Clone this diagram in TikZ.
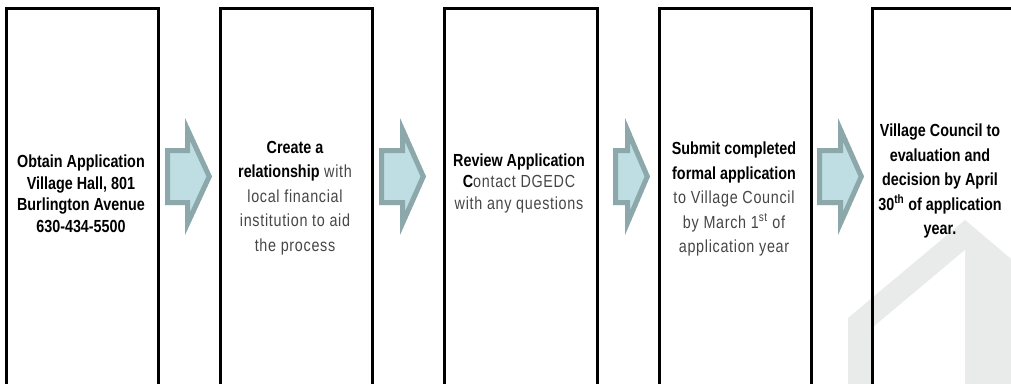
\documentclass[tikz,border=0pt]{standalone}
\usepackage{fontspec}
\setmainfont{Liberation Sans}[FakeStretch=0.82, UprightFeatures={LetterSpace=4}]
\definecolor{arrowline}{RGB}{140,168,170}
\definecolor{arrowfill}{RGB}{190,222,227}
\definecolor{housegray}{RGB}{233,234,234}
\definecolor{textgray}{RGB}{70,70,70}
\newcommand{\blkarrow}[3]{%
  \begin{scope}
    \clip (#1,148) -- (#2,148) -- (#2,118) -- (#3,176.5) -- (#2,235) -- (#2,205) -- (#1,205) -- cycle;
    \fill[arrowfill] (#1,148) -- (#2,148) -- (#2,118) -- (#3,176.5) -- (#2,235) -- (#2,205) -- (#1,205) -- cycle;
    \draw[arrowline, line width=10pt] (#1,148) -- (#2,148) -- (#2,118) -- (#3,176.5) -- (#2,235) -- (#2,205) -- (#1,205) -- cycle;
  \end{scope}}
\begin{document}
\begin{tikzpicture}[x=1pt,y=-1pt,
  stepbox/.style={draw=black, line width=3pt, minimum height=420pt, anchor=north west, inner sep=0pt},
  txt/.style={align=center, inner sep=0pt, text=textgray},
  tight/.style={font=\fontsize{17.5}{21.5}\selectfont},
  loose/.style={font=\fontsize{17.5}{24.5}\selectfont}]
\useasboundingbox (0,0) rectangle (1011,383);
\clip (0,0) rectangle (1011,383);
% watermark house
\fill[housegray] (848,400) -- (848,318) -- (965,220) -- (1035,279) -- (1035,400) -- cycle;
\fill[white] (872,400) -- (872,328) -- (965,250) -- (965,400) -- cycle;
% boxes
\node[stepbox, minimum width=152pt] (b1) at (5,7) {};
\node[stepbox, minimum width=152pt] (b2) at (219,7) {};
\node[stepbox, minimum width=153pt] (b3) at (443,7) {};
\node[stepbox, minimum width=152pt] (b4) at (658,7) {};
\node[stepbox, minimum width=153pt] (b5) at (871,7) {};
% arrows
\blkarrow{165}{185}{212}
\blkarrow{379}{400}{426}
\blkarrow{613}{625}{650}
\blkarrow{817}{838}{864}
% texts
\node[txt, tight, text=black] (t1) at (81,194) {\textbf{Obtain Application}\\\textbf{Village Hall, 801}\\\textbf{Burlington Avenue}\\\textbf{630-434-5500}};
\node[txt, loose] (t2) at (295,198) {\textcolor{black}{\textbf{Create a}}\\\textcolor{black}{\textbf{relationship}} with\\local financial\\institution to aid\\the process};
\node[txt, tight] (t3) at (519,183) {\textcolor{black}{\textbf{Review Application}}\\\textcolor{black}{\textbf{C}}ontact DGEDC\\with any questions};
\node[txt, loose] (t4) at (734,199) {\textcolor{black}{\textbf{Submit completed}}\\\textcolor{black}{\textbf{formal application}}\\to Village Council\\by March 1\textsuperscript{st} of\\application year};
\node[txt, loose, text=black] (t5) at (940,181) {\textbf{Village Council to}\\\textbf{evaluation and}\\\textbf{decision by April}\\\textbf{30\textsuperscript{th} of application}\\\textbf{year.}};
\end{tikzpicture}
\end{document}
